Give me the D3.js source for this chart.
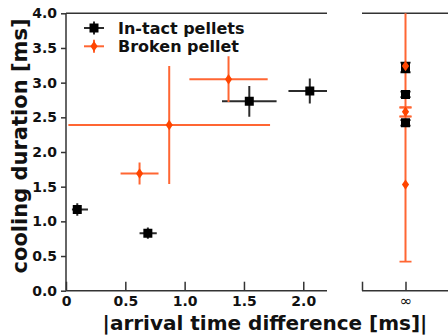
<!DOCTYPE html>
<html>
<head>
<meta charset="utf-8">
<script src="https://cdn.jsdelivr.net/npm/d3@7"></script>
<style>
  html, body { margin: 0; padding: 0; background: #fff; }
  svg { display: block; }
  text { font-family: "DejaVu Sans", sans-serif; }
</style>
</head>
<body>
<svg id="chart" width="448" height="336"></svg>
<script>
// Cooling duration vs. |arrival time difference|, finite panel + "∞" panel

// In-tact pellets (finite arrival time difference)
const intactX      = [0.095, 0.69, 1.545, 2.055];
const intactY      = [1.17, 0.83, 2.73, 2.88];
const intactXErrLo = [0.045, 0.07, 0.23, 0.18];
const intactXErrHi = [0.09, 0.075, 0.23, 0.18];
const intactYErr   = [0.09, 0.08, 0.22, 0.18];

// Broken pellet (finite arrival time difference)
const brokenX    = [0.62, 0.87, 1.37];
const brokenY    = [1.69, 2.39, 3.05];
const brokenXErr = [0.16, 0.85, 0.33];
const brokenYErr = [0.16, 0.85, 0.33];

// Points with no partner pellet (plotted at ∞)
const infIntactY     = [3.22, 2.83, 2.42];
const infIntactYErr  = [0.07, 0.04, 0.04];
const infBrokenY     = [3.24, 2.58, 1.53];
const infBrokenYErrLo = [0.73, 0.065, 1.11];
const infBrokenYErrHi = [0.9, 0.065, 1.11];

// Tick labels
const yTicks = [0, 0.5, 1, 1.5, 2, 2.5, 3, 3.5, 4];
const yTickLabels = ["0.0", "0.5", "1.0", "1.5", "2.0", "2.5", "3.0", "3.5", "4.0"];
const xTicks = [0, 0.5, 1, 1.5, 2];
const xTickLabels = ["0", "0.5", "1.0", "1.5", "2.0"];
const infTicks = [-1, 0];
const infTickLabels = ["", "∞"];

const legendLabels = ["In-tact pellets", "Broken pellet"];

const BLACK = "#000";
const BLACK_LINE = "#2b2b2b";
const ORANGE = "#ff4500";
const ORANGE_LINE = "#ff6633";
const SPINE = "#333";

const svg = d3.select("#chart");

const yTop = 13.3, yBottom = 290.7;
const y = d3.scaleLinear().domain([0, 4]).range([yBottom, yTop]);
const xL = d3.scaleLinear().domain([0, 2.2]).range([66, 327]);
const xR = d3.scaleLinear().domain([-1, 1]).range([362, 449]);

// clip regions
const defs = svg.append("defs");
defs.append("clipPath").attr("id", "clipL").append("rect")
  .attr("x", xL.range()[0]).attr("y", yTop)
  .attr("width", xL.range()[1] - xL.range()[0]).attr("height", yBottom - yTop);
defs.append("clipPath").attr("id", "clipR").append("rect")
  .attr("x", xR.range()[0]).attr("y", yTop)
  .attr("width", xR.range()[1] - xR.range()[0]).attr("height", yBottom - yTop);

// ---------- axes ----------
const yAxis = d3.axisLeft(y).tickValues(yTicks)
  .tickFormat((d, i) => yTickLabels[i]).tickSizeInner(5).tickSizeOuter(0).tickPadding(4);
const gy = svg.append("g").attr("transform", `translate(${xL.range()[0]},0)`).call(yAxis);

const xAxisL = d3.axisBottom(xL).tickValues(xTicks)
  .tickFormat((d, i) => xTickLabels[i]).tickSizeInner(-9).tickSizeOuter(0).tickPadding(5);
const gxL = svg.append("g").attr("transform", `translate(0,${yBottom})`).call(xAxisL);

const xAxisR = d3.axisBottom(xR).tickValues(infTicks)
  .tickFormat((d, i) => infTickLabels[i]).tickSizeInner(-9).tickSizeOuter(0).tickPadding(5);
const gxR = svg.append("g").attr("transform", `translate(0,${yBottom})`).call(xAxisR);

[gy, gxL, gxR].forEach(g => {
  g.select(".domain").remove();
  g.selectAll(".tick line").attr("stroke", SPINE).attr("stroke-width", 1.5);
  g.selectAll(".tick text").attr("fill", "#111")
    .style("font-size", "14px").style("font-weight", "bold");
});
gxR.selectAll(".tick text").style("font-weight", "normal").style("font-size", "15px");

// spines
const spines = svg.append("g").attr("stroke", SPINE).attr("stroke-width", 1.5).attr("fill", "none");
spines.append("line").attr("x1", xL.range()[0]).attr("x2", xL.range()[0]).attr("y1", yTop).attr("y2", yBottom);
spines.append("line").attr("x1", xL.range()[0]).attr("x2", xL.range()[1]).attr("y1", yTop).attr("y2", yTop);
spines.append("line").attr("x1", xL.range()[0]).attr("x2", xL.range()[1]).attr("y1", yBottom).attr("y2", yBottom);
spines.append("line").attr("x1", xR.range()[0]).attr("x2", xR.range()[1]).attr("y1", yTop).attr("y2", yTop);
spines.append("line").attr("x1", xR.range()[0]).attr("x2", xR.range()[1]).attr("y1", yBottom).attr("y2", yBottom);

// ---------- data ----------
const intact = intactX.map((x, i) => ({
  x, y: intactY[i], xlo: x - intactXErrLo[i], xhi: x + intactXErrHi[i],
  ylo: intactY[i] - intactYErr[i], yhi: intactY[i] + intactYErr[i]
}));
const broken = brokenX.map((x, i) => ({
  x, y: brokenY[i], xlo: x - brokenXErr[i], xhi: x + brokenXErr[i],
  ylo: brokenY[i] - brokenYErr[i], yhi: brokenY[i] + brokenYErr[i]
}));
const infIntact = infIntactY.map((v, i) => ({
  x: 0, y: v, ylo: v - infIntactYErr[i], yhi: v + infIntactYErr[i]
}));
const infBroken = infBrokenY.map((v, i) => ({
  x: 0, y: v, ylo: v - infBrokenYErrLo[i], yhi: v + infBrokenYErrHi[i]
}));

const panelL = svg.append("g").attr("clip-path", "url(#clipL)");
const panelR = svg.append("g").attr("clip-path", "url(#clipR)");

function errLines(g, data, xs, color, withX) {
  const grp = g.append("g").attr("stroke", color).attr("stroke-width", 2);
  if (withX) {
    grp.selectAll("line.h").data(data).join("line").attr("class", "h")
      .attr("x1", d => xs(d.xlo)).attr("x2", d => xs(d.xhi))
      .attr("y1", d => y(d.y)).attr("y2", d => y(d.y));
  }
  grp.selectAll("line.v").data(data).join("line").attr("class", "v")
    .attr("x1", d => xs(d.x)).attr("x2", d => xs(d.x))
    .attr("y1", d => y(d.ylo)).attr("y2", d => y(d.yhi));
}
function caps(g, data, xs, color, half) {
  const grp = g.append("g").attr("stroke", color).attr("stroke-width", 1.8);
  ["ylo", "yhi"].forEach(k => {
    grp.selectAll("line." + k).data(data).join("line").attr("class", k)
      .attr("x1", d => xs(d.x) - half).attr("x2", d => xs(d.x) + half)
      .attr("y1", d => y(d[k])).attr("y2", d => y(d[k]));
  });
}
const square = d3.symbol().type(d3.symbolSquare).size(81);
const diamondPath = "M0,-5.2L3.6,0L0,5.2L-3.6,0Z";
function squares(g, data, xs) {
  g.append("g").selectAll("path").data(data).join("path")
    .attr("transform", d => `translate(${xs(d.x)},${y(d.y)})`)
    .attr("d", square).attr("fill", BLACK);
}
function diamonds(g, data, xs) {
  g.append("g").selectAll("path").data(data).join("path")
    .attr("transform", d => `translate(${xs(d.x)},${y(d.y)})`)
    .attr("d", diamondPath).attr("fill", ORANGE);
}

// finite panel: error lines below markers
errLines(panelL, intact, xL, BLACK_LINE, true);
errLines(panelL, broken, xL, ORANGE_LINE, true);
squares(panelL, intact, xL);
diamonds(panelL, broken, xL);

// ∞ panel
errLines(panelR, infIntact, xR, BLACK_LINE, false);
errLines(panelR, infBroken, xR, ORANGE_LINE, false);
caps(panelR, infIntact, xR, BLACK, 5);
caps(panelR, infBroken, xR, ORANGE_LINE, 6);
squares(panelR, infIntact, xR);
diamonds(panelR, infBroken, xR);

// ---------- legend ----------
const legend = svg.append("g").attr("transform", "translate(94,28)");
const legItems = [
  { label: legendLabels[0], line: BLACK_LINE, kind: "square" },
  { label: legendLabels[1], line: ORANGE_LINE, kind: "diamond" }
];
legItems.forEach((it, i) => {
  const g = legend.append("g").attr("transform", `translate(0,${i * 18.3})`);
  g.append("line").attr("x1", -10).attr("x2", 10).attr("y1", 0).attr("y2", 0)
    .attr("stroke", it.line).attr("stroke-width", 2);
  g.append("line").attr("x1", 0).attr("x2", 0).attr("y1", -6.5).attr("y2", 6.5)
    .attr("stroke", it.line).attr("stroke-width", 2);
  if (it.kind === "square") g.append("path").attr("d", square).attr("fill", BLACK);
  else g.append("path").attr("d", diamondPath).attr("fill", ORANGE);
  g.append("text").attr("x", 24).attr("y", 5.6)
    .style("font-size", "16px").style("font-weight", "bold").attr("fill", "#111")
    .text(it.label);
});

// ---------- axis titles ----------
svg.append("text")
  .attr("x", 265).attr("y", 330)
  .attr("text-anchor", "middle")
  .style("font-size", "20px").style("font-weight", "bold").attr("fill", "#111")
  .text("|arrival time difference [ms]|");

svg.append("text")
  .attr("transform", "translate(27,146) rotate(-90)")
  .attr("text-anchor", "middle")
  .style("font-size", "21px").style("font-weight", "bold").attr("fill", "#111")
  .text("cooling duration [ms]");
</script>
</body>
</html>
